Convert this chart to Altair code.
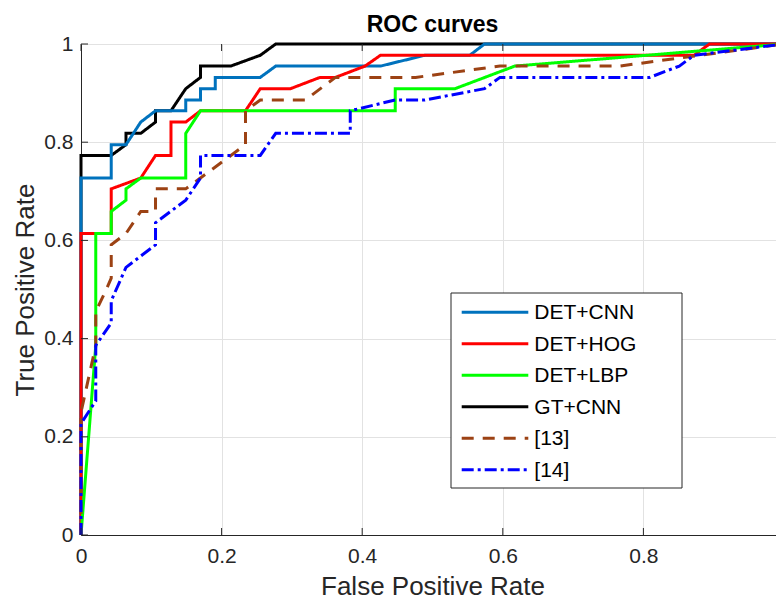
import altair as alt
import pandas as pd

series_names = ["DET+CNN", "DET+HOG", "DET+LBP", "GT+CNN", "[13]", "[14]"]
series_colors = ["#0072BD", "#FF0000", "#00FF00", "#000000", "#9C4214", "#0000FF"]
series_dashes = [[1, 0], [1, 0], [1, 0], [1, 0], [12, 9], [12, 4, 3, 4]]
draw_order = ["GT+CNN", "DET+CNN", "DET+HOG", "DET+LBP", "[13]", "[14]"]
chart_title = ["ROC curves"]

det_cnn_fpr = [0, 0, 0.043, 0.043, 0.064, 0.085, 0.106, 0.149, 0.149, 0.170, 0.170, 0.191, 0.191, 0.255, 0.277, 0.426, 0.489, 0.553, 0.574, 1.0]
det_cnn_tpr = [0, 0.727, 0.727, 0.795, 0.795, 0.841, 0.864, 0.864, 0.886, 0.886, 0.909, 0.909, 0.932, 0.932, 0.955, 0.955, 0.977, 0.977, 1.0, 1.0]

det_hog_fpr = [0, 0, 0.043, 0.043, 0.085, 0.106, 0.128, 0.128, 0.149, 0.170, 0.234, 0.255, 0.298, 0.340, 0.362, 0.404, 0.426, 0.872, 0.894, 1.0]
det_hog_tpr = [0, 0.614, 0.614, 0.705, 0.727, 0.773, 0.773, 0.841, 0.841, 0.864, 0.864, 0.909, 0.909, 0.932, 0.932, 0.955, 0.977, 0.977, 1.0, 1.0]

det_lbp_fpr = [0, 0.021, 0.021, 0.043, 0.043, 0.064, 0.064, 0.085, 0.149, 0.149, 0.170, 0.447, 0.447, 0.532, 0.617, 1.0]
det_lbp_tpr = [0, 0.386, 0.614, 0.614, 0.659, 0.682, 0.705, 0.727, 0.727, 0.818, 0.864, 0.864, 0.909, 0.909, 0.955, 1.0]

gt_cnn_fpr = [0, 0, 0.043, 0.064, 0.064, 0.085, 0.106, 0.106, 0.128, 0.149, 0.170, 0.170, 0.213, 0.255, 0.277, 1.0]
gt_cnn_tpr = [0, 0.773, 0.773, 0.795, 0.818, 0.818, 0.841, 0.864, 0.864, 0.909, 0.932, 0.955, 0.955, 0.977, 1.0, 1.0]

ref13_fpr = [0, 0, 0.021, 0.021, 0.036, 0.043, 0.043, 0.064, 0.085, 0.106, 0.106, 0.149, 0.234, 0.234, 0.255, 0.319, 0.362, 0.476, 0.596, 0.766, 1.0]
ref13_tpr = [0, 0.25, 0.386, 0.455, 0.5, 0.523, 0.591, 0.614, 0.659, 0.659, 0.705, 0.705, 0.795, 0.864, 0.886, 0.886, 0.932, 0.932, 0.955, 0.955, 1.0]

ref14_fpr = [0, 0, 0.021, 0.021, 0.043, 0.043, 0.064, 0.106, 0.106, 0.149, 0.170, 0.170, 0.255, 0.277, 0.383, 0.383, 0.447, 0.489, 0.574, 0.596, 0.809, 0.851, 0.872, 1.0]
ref14_tpr = [0, 0.227, 0.273, 0.386, 0.432, 0.477, 0.545, 0.591, 0.636, 0.682, 0.727, 0.773, 0.773, 0.818, 0.818, 0.864, 0.886, 0.886, 0.909, 0.932, 0.932, 0.955, 0.977, 1.0]

x_ticks = [0, 0.2, 0.4, 0.6, 0.8, 1]
y_ticks = [0, 0.2, 0.4, 0.6, 0.8, 1]

curves = {
    "DET+CNN": (det_cnn_fpr, det_cnn_tpr),
    "DET+HOG": (det_hog_fpr, det_hog_tpr),
    "DET+LBP": (det_lbp_fpr, det_lbp_tpr),
    "GT+CNN": (gt_cnn_fpr, gt_cnn_tpr),
    "[13]": (ref13_fpr, ref13_tpr),
    "[14]": (ref14_fpr, ref14_tpr),
}

rows = []
for name, (xs, ys) in curves.items():
    for i, (a, b) in enumerate(zip(xs, ys)):
        rows.append({"series": name, "fpr": a, "tpr": b, "i": i})
df = pd.DataFrame(rows)

W, H = 703, 491
FONT = "Liberation Sans, Arial, Helvetica, sans-serif"
AX = "#262626"

xsc = alt.Scale(domain=[0, 1], nice=False, zero=False)
ysc = alt.Scale(domain=[0, 1], nice=False, zero=False)

x_axis = alt.Axis(values=x_ticks, format="~g", grid=True, gridColor="#e2e2e2", gridWidth=1,
                  domainColor=AX, domainWidth=1, ticks=False, labelFlush=False,
                  labelFont=FONT, labelFontSize=21, labelColor=AX, labelPadding=10,
                  title="False Positive Rate", titleFont=FONT, titleFontSize=26,
                  titleFontWeight="normal", titleColor=AX, titleBaseline="alphabetic",
                  titleY=59, titleX=W / 2, titleAlign="center")
y_axis = alt.Axis(values=y_ticks, format="~g", grid=True, gridColor="#e2e2e2", gridWidth=1,
                  domainColor=AX, domainWidth=1, ticks=False, labelFlush=False,
                  labelFont=FONT, labelFontSize=21, labelColor=AX, labelPadding=8,
                  title="True Positive Rate", titleFont=FONT, titleFontSize=26,
                  titleFontWeight="normal", titleColor=AX, titleBaseline="alphabetic",
                  titleAngle=270, titleX=-48, titleY=H / 2, titleAlign="center")

color = alt.Color("series:N", scale=alt.Scale(domain=series_names, range=series_colors), legend=None)
dash = alt.StrokeDash("series:N", scale=alt.Scale(domain=series_names, range=series_dashes), legend=None)

box = alt.Chart(pd.DataFrame({"a": [0]})).mark_rect(fill="white", stroke=AX, strokeWidth=1).encode(
    x=alt.value(370), x2=alt.value(601), y=alt.value(249), y2=alt.value(444))

layers = []
for name in draw_order:
    layers.append(
        alt.Chart(df).transform_filter(alt.datum.series == name).mark_line(strokeWidth=3).encode(
            x=alt.X("fpr:Q", scale=xsc, axis=x_axis),
            y=alt.Y("tpr:Q", scale=ysc, axis=y_axis),
            color=color, strokeDash=dash, order=alt.Order("i:Q"))
    )

# hand-laid legend (MATLAB style): one sample line and one label per series
legend_layers = []
for k, (name, col, dsh) in enumerate(zip(series_names, series_colors, series_dashes)):
    ly = 268.3 + k * 31.5
    one = pd.DataFrame({"series": [name]})
    legend_layers.append(
        alt.Chart(one).mark_rule(color=col, strokeWidth=3, strokeDash=dsh).encode(
            x=alt.value(380.7), x2=alt.value(447.3), y=alt.value(ly)))
    legend_layers.append(
        alt.Chart(one).mark_text(font=FONT, fontSize=21, color="#000000", align="left",
                                 baseline="middle").encode(
            text="series:N", x=alt.value(453.3), y=alt.value(ly + 1)))

xt = pd.DataFrame({"v": x_ticks})
yt = pd.DataFrame({"v": y_ticks})
tick_bottom = alt.Chart(xt).mark_rule(color=AX, strokeWidth=1).encode(
    x=alt.X("v:Q", scale=xsc, axis=x_axis), y=alt.value(H), y2=alt.value(H - 7))
tick_top = alt.Chart(xt).mark_rule(color=AX, strokeWidth=1).encode(
    x=alt.X("v:Q", scale=xsc, axis=x_axis), y=alt.value(0), y2=alt.value(7))
tick_left = alt.Chart(yt).mark_rule(color=AX, strokeWidth=1).encode(
    y=alt.Y("v:Q", scale=ysc, axis=y_axis), x=alt.value(0), x2=alt.value(7))
tick_right = alt.Chart(yt).mark_rule(color=AX, strokeWidth=1).encode(
    y=alt.Y("v:Q", scale=ysc, axis=y_axis), x=alt.value(W - 7), x2=alt.value(W))

title_mark = alt.Chart(pd.DataFrame({"t": chart_title})).mark_text(
    font=FONT, fontSize=23, fontWeight="bold", color="#000000", align="center", baseline="alphabetic"
).encode(text="t:N", x=alt.value(W / 2), y=alt.value(-12))

chart = alt.layer(layers[0], box, *layers[1:], *legend_layers,
                  tick_bottom, tick_top, tick_left, tick_right, title_mark).properties(
    width=W, height=H,
    autosize=alt.AutoSizeParams(type="none"),
    padding={"left": 73, "top": 36, "right": -8, "bottom": 61},
).configure_view(stroke=AX, strokeWidth=1)

chart.save("out.html", embed_options={"renderer": "svg", "actions": False})
